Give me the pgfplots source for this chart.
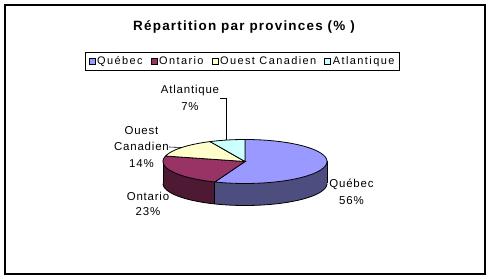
\documentclass[border=0pt]{standalone}
\usepackage{pgfplots}
\pgfplotsset{compat=1.18}
\usepgfplotslibrary{fillbetween}
\usepackage{fontspec}
\setmainfont{Liberation Sans}
\newfontfamily\titfont{Liberation Sans}[LetterSpace=9]
\newfontfamily\legfont{Liberation Sans}[LetterSpace=13]
\newfontfamily\labfont{Liberation Sans}[LetterSpace=7]

\definecolor{qtop}{HTML}{9999FF}
\definecolor{qside}{HTML}{4D4D80}
\definecolor{otop}{HTML}{993366}
\definecolor{oside}{HTML}{4D1933}
\definecolor{wtop}{HTML}{FFFFCC}
\definecolor{atop}{HTML}{CCFFFF}

% shares in percent
\def\vQ{56}\def\vO{23}\def\vW{14}\def\vA{7}
\pgfmathsetmacro\aQ{90-3.6*\vQ}
\pgfmathsetmacro\aO{\aQ-3.6*\vO}
\pgfmathsetmacro\aW{\aO-3.6*\vW}
\pgfmathsetmacro\aA{\aW-3.6*\vA}
% pie geometry (pixels)
\def\cx{245}\def\cy{161.5}\def\rx{82}\def\ry{22}\def\dep{22}

\begin{document}
\begin{tikzpicture}
\path (0,0) rectangle (491bp,279bp);
\begin{axis}[
  at={(0,0)}, anchor=south west,
  width=491bp, height=279bp, scale only axis,
  xmin=0, xmax=491, ymin=0, ymax=279, y dir=reverse,
  axis lines=none, clip=false,
  legend columns=4,
  legend style={at={(axis cs:242.5,61.5)}, anchor=center, draw=black,
    line width=0.8bp, inner xsep=3bp, inner ysep=2bp,
    font=\legfont\fontsize{11}{13}\selectfont,
    /tikz/every even column/.append style={column sep=6bp}},
  legend image code/.code={\draw[#1,draw=black,line width=0.5bp] (0bp,-3bp) rectangle (6bp,3bp);},
]
\begin{pgfonlayer}{axis background}
\fill[white] (axis cs:0,0) rectangle (axis cs:491,279);
\end{pgfonlayer}
\addlegendimage{fill=qtop}\addlegendentry{Québec}
\addlegendimage{fill=otop}\addlegendentry{Ontario}
\addlegendimage{fill=wtop}\addlegendentry{Ouest Canadien}
\addlegendimage{fill=atop}\addlegendentry{Atlantique}

% side faces
\addplot[name path=qt, draw=none, domain=\aQ:0, samples=50] ({\cx+\rx*cos(x)},{\cy-\ry*sin(x)});
\addplot[name path=qb, draw=none, domain=\aQ:0, samples=50] ({\cx+\rx*cos(x)},{\cy+\dep-\ry*sin(x)});
\addplot[qside] fill between[of=qt and qb];
\addplot[name path=ot, draw=none, domain=-180:\aQ, samples=40] ({\cx+\rx*cos(x)},{\cy-\ry*sin(x)});
\addplot[name path=ob, draw=none, domain=-180:\aQ, samples=40] ({\cx+\rx*cos(x)},{\cy+\dep-\ry*sin(x)});
\addplot[oside] fill between[of=ot and ob];

% side outlines
\addplot[black, line width=0.8bp, domain=-180:0, samples=80] ({\cx+\rx*cos(x)},{\cy+\dep-\ry*sin(x)});
\addplot[black, line width=0.8bp, domain=0:\dep, samples=2] ({\cx+\rx*cos(180)},{\cy-\ry*sin(180)+x});
\addplot[black, line width=0.8bp, domain=0:\dep, samples=2] ({\cx+\rx*cos(0)},{\cy-\ry*sin(0)+x});
\addplot[black, line width=0.8bp, domain=0:\dep, samples=2] ({\cx+\rx*cos(\aQ)},{\cy-\ry*sin(\aQ)+x});

% top faces
\addplot[fill=qtop, draw=black, line width=0.8bp, domain=\aQ:90, samples=80] ({\cx+\rx*cos(x)},{\cy-\ry*sin(x)}) -- (axis cs:\cx,\cy) -- cycle;
\addplot[fill=otop, draw=black, line width=0.8bp, domain=\aO:\aQ, samples=40] ({\cx+\rx*cos(x)},{\cy-\ry*sin(x)}) -- (axis cs:\cx,\cy) -- cycle;
\addplot[fill=wtop, draw=black, line width=0.8bp, domain=\aW:\aO, samples=30] ({\cx+\rx*cos(x)},{\cy-\ry*sin(x)}) -- (axis cs:\cx,\cy) -- cycle;
\addplot[fill=atop, draw=black, line width=0.8bp, domain=\aA:\aW, samples=20] ({\cx+\rx*cos(x)},{\cy-\ry*sin(x)}) -- (axis cs:\cx,\cy) -- cycle;

% leader lines
\addplot[black, line width=0.6bp] coordinates {(220,98) (226,98) (226,140)};
\addplot[black, line width=0.6bp] coordinates {(169,147) (181,147.5)};

% data labels
\node[font=\labfont\fontsize{11.5}{16.5}\selectfont, align=center] at (axis cs:190,98) {Atlantique\\7\%};
\node[font=\labfont\fontsize{11.5}{16.5}\selectfont, align=center] at (axis cs:141.5,147) {Ouest\\Canadien\\14\%};
\node[font=\labfont\fontsize{11.5}{15.5}\selectfont, align=center] at (axis cs:148,204) {Ontario\\23\%};
\node[font=\labfont\fontsize{11.5}{17.5}\selectfont, align=center] at (axis cs:351.5,192) {Québec\\56\%};

% title
\node[font=\titfont\bfseries\fontsize{13.5}{15}\selectfont, anchor=base] at (axis cs:244,31) {Répartition par provinces (\% )};

% chart frame
\draw[line width=1.2bp] (axis cs:5,5) rectangle (axis cs:485,274);
\end{axis}
\end{tikzpicture}
\end{document}
